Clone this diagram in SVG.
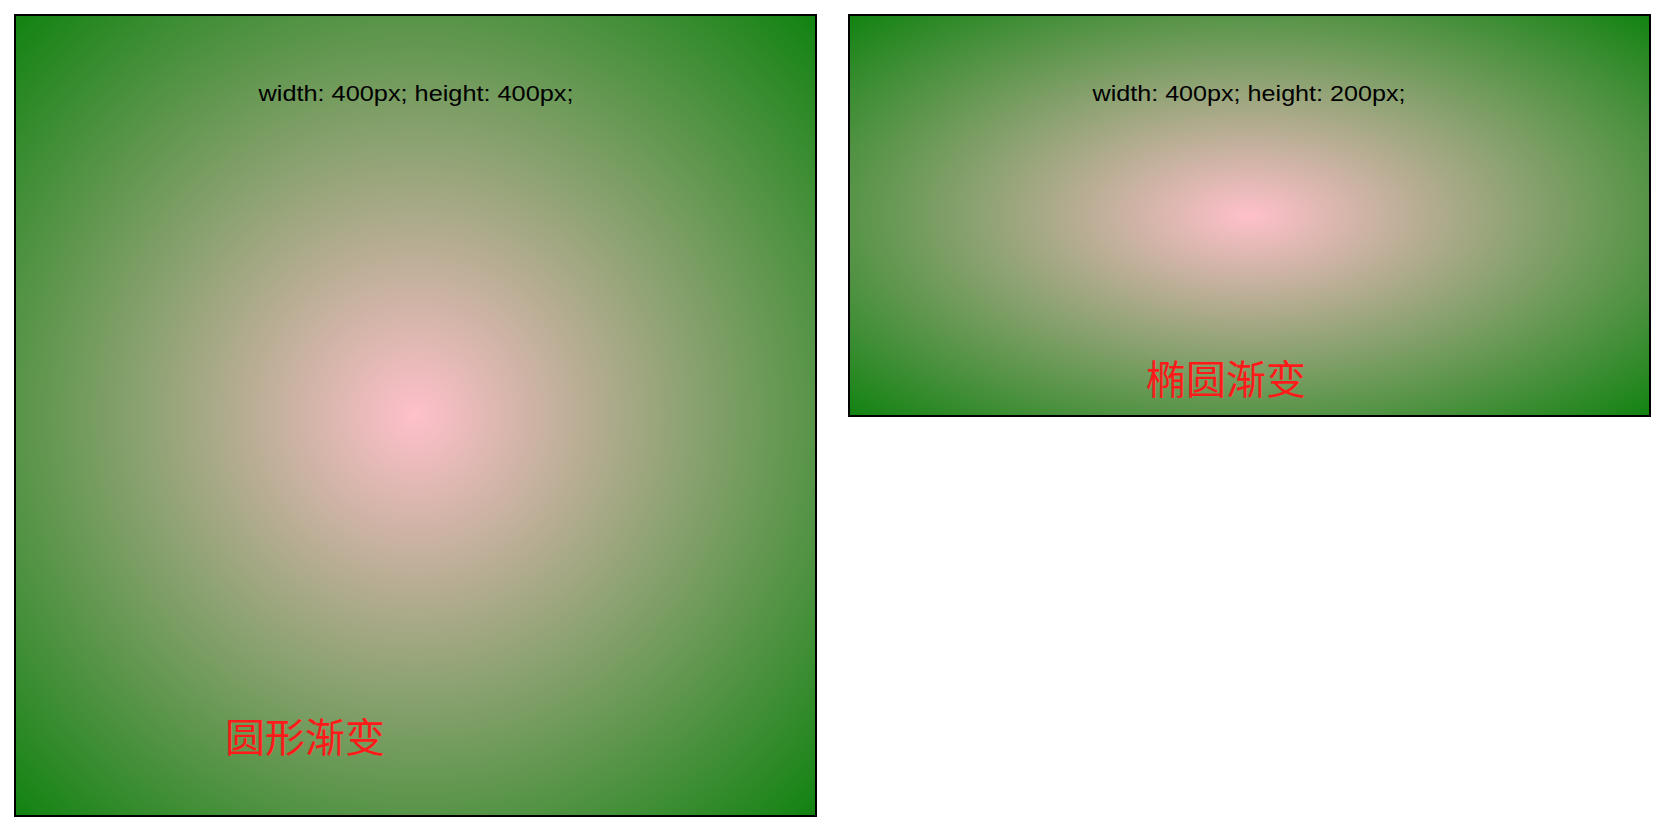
<svg xmlns="http://www.w3.org/2000/svg" width="1672" height="836" viewBox="0 0 1672 836">
<style>
.box{stroke:#000;stroke-width:2}
.dim{font-family:"Liberation Sans","DejaVu Sans",sans-serif;font-size:22px;fill:#000;text-anchor:middle}
.cn{font-family:"Noto Sans CJK SC","Noto Sans",sans-serif;font-size:40px;fill:#ff1a1a}
</style>
<defs>
<radialGradient id="g" cx="0.5" cy="0.5" r="0.7071" gradientUnits="objectBoundingBox">
<stop offset="0" stop-color="#ffc0cb"/>
<stop offset="1" stop-color="#118211"/>
</radialGradient>
</defs>
<rect width="1672" height="836" fill="#fff"/>
<g id="circle">
<rect class="box" x="15" y="15" width="801" height="801" fill="url(#g)"/>
<text class="dim" x="416" y="101" textLength="315" lengthAdjust="spacingAndGlyphs">width: 400px; height: 400px;</text>
<text class="cn" x="225" y="752">圆形渐变</text>
</g>
<g id="ellipse">
<rect class="box" x="849" y="15" width="801" height="401" fill="url(#g)"/>
<text class="dim" x="1249" y="101" textLength="313" lengthAdjust="spacingAndGlyphs">width: 400px; height: 200px;</text>
<text class="cn" x="1146" y="394">椭圆渐变</text>
</g>
<g id="connectors"/>
</svg>
